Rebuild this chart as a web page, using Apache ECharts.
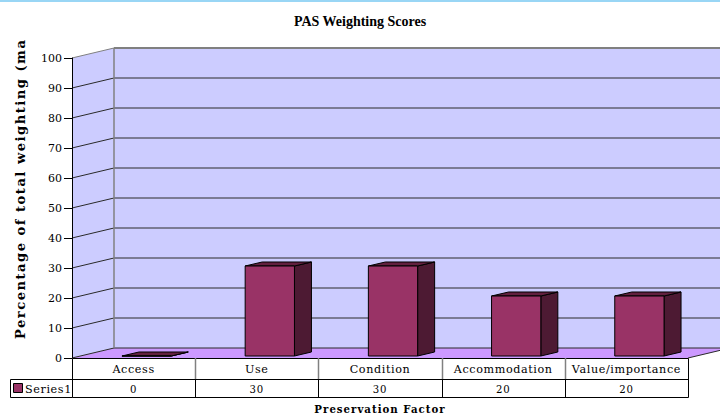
<!DOCTYPE html>
<html><head><meta charset="utf-8">
<script src="https://cdn.jsdelivr.net/npm/echarts@6/dist/echarts.min.js"></script>
<style>
html,body{margin:0;padding:0;background:#fff}
#c{width:720px;height:417px}
#c svg text[style*="13.1px"]{letter-spacing:1.5px}
#c svg text[style*="11.2px"]{letter-spacing:0.6px}
#c svg text[style*="10.2px"]{letter-spacing:1px}
#c svg text[style*="10.1px"]{letter-spacing:0.8px}
</style>
</head><body><div id="c"></div>
<script>
const categories = ['Access', 'Use', 'Condition', 'Accommodation', 'Value/importance'];
const series1 = [0, 30, 30, 20, 20];
const seriesName = 'Series1';
const yMin = 0, yMax = 100, yStep = 10;

const DX = 42, DY = -10;       // wall depth offset
const FX = 13, FY = -2;        // bar front-face offset
const BX = 17, BY = -4;        // bar depth
const SERIF = "'DejaVu Serif', serif";

const chart = echarts.init(document.getElementById('c'), null, {renderer: 'svg', width: 720, height: 417});

function wallsRender(params, api) {
  const band = api.size([1, 0])[0];
  const x0 = api.coord([0, yMin])[0] - band / 2;
  const x1 = api.coord([categories.length - 1, yMin])[0] + band / 2;
  const y0 = api.coord([0, yMin])[1];
  const yT = api.coord([0, yMax])[1];
  const ch = [];
  ch.push({type: 'polygon', shape: {points: [[x0, yT], [x0 + DX, yT + DY], [x0 + DX, y0 + DY], [x0, y0]]}, style: {fill: '#ccccff'}});
  ch.push({type: 'rect', shape: {x: x0 + DX, y: yT + DY, width: x1 - x0, height: y0 - yT}, style: {fill: '#ccccff'}});
  ch.push({type: 'polygon', shape: {points: [[x0, y0], [x1, y0], [x1 + DX, y0 + DY], [x0 + DX, y0 + DY]]}, style: {fill: '#cc99ff'}});
  for (let v = yMin; v <= yMax; v += yStep) {
    const y = api.coord([0, v])[1];
    const col = v === yMax ? '#808080' : '#2a2a2a';
    const lw = v === yMax ? 2 : 1;
    ch.push({type: 'line', shape: {x1: x0, y1: y, x2: x0 + DX, y2: y + DY}, style: {stroke: col, lineWidth: 1}});
    ch.push({type: 'line', shape: {x1: x0 + DX, y1: y + DY, x2: x1 + DX + 10, y2: y + DY}, style: {stroke: col, lineWidth: lw}});
  }
  ch.push({type: 'line', shape: {x1: x0 + DX, y1: yT + DY, x2: x0 + DX, y2: y0 + DY}, style: {stroke: '#808080', lineWidth: 1.5}});
  ch.push({type: 'line', shape: {x1: x1, y1: y0, x2: x1 + DX, y2: y0 + DY}, style: {stroke: '#2a2a2a', lineWidth: 1}});
  return {type: 'group', children: ch};
}

function barRender(params, api) {
  const i = api.value(0), v = api.value(1);
  const band = api.size([1, 0])[0];
  const w = band * 0.4;
  const c = api.coord([i, yMin]);
  const t = api.coord([i, v]);
  const L = c[0] - w / 2 + FX, R = L + w;
  const top = t[1] + FY, bot = c[1] + FY;
  const st = {stroke: '#000', lineWidth: 1, lineJoin: 'round'};
  return {type: 'group', children: [
    {type: 'polygon', shape: {points: [[R, top], [R + BX, top + BY], [R + BX, bot + BY], [R, bot]]}, style: Object.assign({fill: '#4d1a33'}, st)},
    {type: 'polygon', shape: {points: [[L, top], [L + BX, top + BY], [R + BX, top + BY], [R, top]]}, style: Object.assign({fill: '#62203f'}, st)},
    {type: 'rect', shape: {x: L, y: top, width: w, height: bot - top}, style: Object.assign({fill: '#993366'}, st)}
  ]};
}

function tableRender(params, api) {
  const band = api.size([1, 0])[0];
  const n = categories.length;
  const x0 = api.coord([0, yMin])[0] - band / 2;
  const x1 = api.coord([n - 1, yMin])[0] + band / 2;
  const y0 = api.coord([0, yMin])[1];
  const r1 = y0 + 21, r2 = r1 + 18;
  const lx = 10;
  const ch = [];
  ch.push({type: 'rect', shape: {x: x0 + 0.5, y: y0 + 0.5, width: x1 - x0, height: r2 - y0}, style: {fill: '#fff', stroke: '#000', lineWidth: 1}});
  ch.push({type: 'rect', shape: {x: lx + 0.5, y: r1 + 0.5, width: x0 - lx, height: r2 - r1}, style: {fill: '#fff', stroke: '#000', lineWidth: 1}});
  ch.push({type: 'line', shape: {x1: x0, y1: r1 + 0.5, x2: x1, y2: r1 + 0.5}, style: {stroke: '#000', lineWidth: 1}});
  for (let i = 0; i < n; i++) {
    const cx = api.coord([i, yMin])[0];
    if (i > 0) {
      const bx = Math.round(cx - band / 2) + 0.5;
      ch.push({type: 'line', shape: {x1: bx, y1: y0, x2: bx, y2: r1}, style: {stroke: '#808080', lineWidth: 1.5}});
      ch.push({type: 'line', shape: {x1: bx, y1: r1, x2: bx, y2: r2}, style: {stroke: '#000', lineWidth: 1}});
    }
    ch.push({type: 'text', style: {text: categories[i], x: cx, y: (y0 + r1) / 2 + 1, align: 'center', verticalAlign: 'middle', font: '11.2px ' + SERIF, fill: '#000'}});
    ch.push({type: 'text', style: {text: String(series1[i]), x: cx, y: (r1 + r2) / 2 + 1, align: 'center', verticalAlign: 'middle', font: '10.1px ' + SERIF, fill: '#000'}});
  }
  ch.push({type: 'rect', shape: {x: lx + 3.5, y: r1 + 4.5, width: 9, height: 9}, style: {fill: '#993366', stroke: '#000', lineWidth: 1}});
  ch.push({type: 'text', style: {text: seriesName, x: lx + 15, y: (r1 + r2) / 2 + 1, align: 'left', verticalAlign: 'middle', font: '11.2px ' + SERIF, fill: '#000'}});
  return {type: 'group', children: ch};
}

chart.setOption({
  animation: false,
  backgroundColor: '#fff',
  title: {text: 'PAS Weighting Scores', left: 'center', top: 9,
    textStyle: {fontFamily: "'Liberation Serif', serif", fontWeight: 'bold', fontSize: 14, color: '#000'}},
  grid: {left: 72, right: 32, top: 58, bottom: 59},
  xAxis: {type: 'category', data: categories, axisLine: {show: false}, axisTick: {show: false}, axisLabel: {show: false}, splitLine: {show: false}},
  yAxis: {type: 'value', min: yMin, max: yMax, interval: yStep, z: 10,
    axisLine: {show: true, lineStyle: {color: '#000', width: 1}},
    axisTick: {show: true, length: 8, lineStyle: {color: '#000'}},
    axisLabel: {fontFamily: SERIF, fontSize: 11, color: '#000', margin: 10},
    splitLine: {show: false}},
  graphic: [
    {type: 'text', x: 20, y: 339, rotation: Math.PI / 2, style: {text: 'Percentage of total weighting (ma', font: 'bold 13.1px ' + SERIF, fill: '#000', align: 'left', verticalAlign: 'middle'}},
    {type: 'text', x: 380, y: 409, style: {text: 'Preservation Factor', font: 'bold 10.2px ' + SERIF, fill: '#000', align: 'center', verticalAlign: 'middle'}},
    {type: 'rect', shape: {x: 0, y: 0, width: 720, height: 2}, style: {fill: '#99d6f5'}}
  ],
  series: [
    {type: 'custom', name: 'walls', z: 1, silent: true, clip: false, data: [[0, 0]], renderItem: wallsRender},
    {type: 'custom', name: seriesName, z: 3, clip: false, data: series1.map((v, i) => [i, v]), renderItem: barRender},
    {type: 'custom', name: 'table', z: 4, silent: true, clip: false, data: [[0, 0]], renderItem: tableRender}
  ]
});
</script></body></html>
